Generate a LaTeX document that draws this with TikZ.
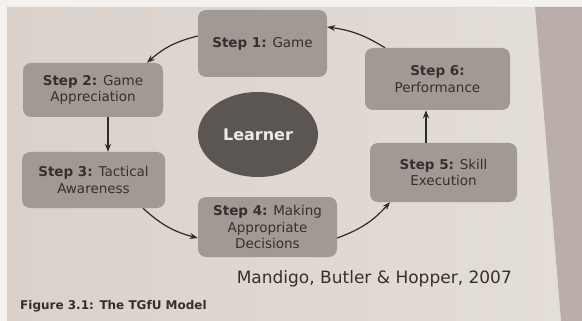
\documentclass[tikz,border=0pt]{standalone}
\usepackage{fontspec}
\setmainfont{DejaVu Sans}
\usetikzlibrary{arrows.meta,shapes.geometric}
\definecolor{pagebg}{HTML}{DAD1CB}
\definecolor{pagelight}{HTML}{E4DED8}
\definecolor{pageedge}{HTML}{B9AEAA}
\definecolor{rim}{HTML}{F4F1EF}
\definecolor{boxfill}{HTML}{A09994}
\definecolor{learnerfill}{HTML}{5C5653}
\definecolor{ink}{HTML}{35302E}
\definecolor{arrowink}{HTML}{2E2A28}
\tikzset{
  stepbox/.style={rectangle, rounded corners=8pt, fill=boxfill, draw=none,
    text=ink, align=center, inner sep=0pt,
    font=\fontsize{13.5}{16.5}\selectfont},
  learnerbox/.style={ellipse, fill=learnerfill, draw=none, text=white!92!black,
    inner sep=0pt, font=\fontsize{16}{19}\selectfont\bfseries},
  flow/.style={draw=arrowink, line width=1.2pt,
    -{Stealth[length=8pt,width=6pt]}},
  plaintext/.style={text=ink, inner sep=0pt}
}
\begin{document}
\begin{tikzpicture}[x=1pt,y=-1pt]
\useasboundingbox (0,0) rectangle (582,321);
% page background
\fill[rim] (0,0) rectangle (582,321);
\shade[left color=pagebg, right color=pagelight] (7,7) -- (535,7) -- (561,321) -- (7,321) -- cycle;
\fill[pageedge] (535,7) -- (582,7) -- (582,321) -- (561,321) -- cycle;

% steps
\node[stepbox, minimum width=129pt, minimum height=67pt] (s1) at (262.5,43.5)
  {\textbf{Step 1:} Game};
\node[stepbox, minimum width=140pt, minimum height=54pt] (s2) at (93,90)
  {\textbf{Step 2:} Game\\Appreciation};
\node[stepbox, minimum width=143pt, minimum height=56pt] (s3) at (93.5,180)
  {\textbf{Step 3:} Tactical\\Awareness};
\node[stepbox, minimum width=139pt, minimum height=60pt] (s4) at (267.5,227)
  {\textbf{Step 4:} Making\\Appropriate\\Decisions};
\node[stepbox, minimum width=147pt, minimum height=59pt] (s5) at (443.5,172.5)
  {\textbf{Step 5:} Skill\\Execution};
\node[stepbox, minimum width=145pt, minimum height=62pt] (s6) at (437.5,79)
  {\textbf{Step 6:}\\Performance};
\node[learnerbox, minimum width=120pt, minimum height=85pt] (learner) at (258,134.5)
  {Learner};

% connectors
\draw[flow] ([yshift=7.5pt]s1.west) to[bend right=14] ([xshift=54pt]s2.north);
\draw[flow] ([xshift=15pt]s2.south) -- ([xshift=15pt]s2.south |- s3.north);
\draw[flow] ([xshift=49.5pt]s3.south) to[bend right=14] ([yshift=-11pt]s4.west);
\draw[flow] ([yshift=-11pt]s4.east) to[bend right=14] ([xshift=-53.5pt]s5.south);
\draw[flow] ([xshift=-17.5pt]s5.north) -- ([xshift=-17.5pt]s5.north |- s6.south);
\draw[flow] ([xshift=-52.5pt]s6.north) to[bend right=12] ([yshift=16.5pt]s1.east);

% texts
\node[plaintext, font=\fontsize{17}{20}\selectfont, anchor=east] (cite) at (512,279)
  {Mandigo, Butler \& Hopper, 2007};
\node[plaintext, font=\fontsize{12}{14}\selectfont\bfseries, anchor=west] (caption) at (20,306)
  {Figure 3.1: The TGfU Model};
\end{tikzpicture}
\end{document}
